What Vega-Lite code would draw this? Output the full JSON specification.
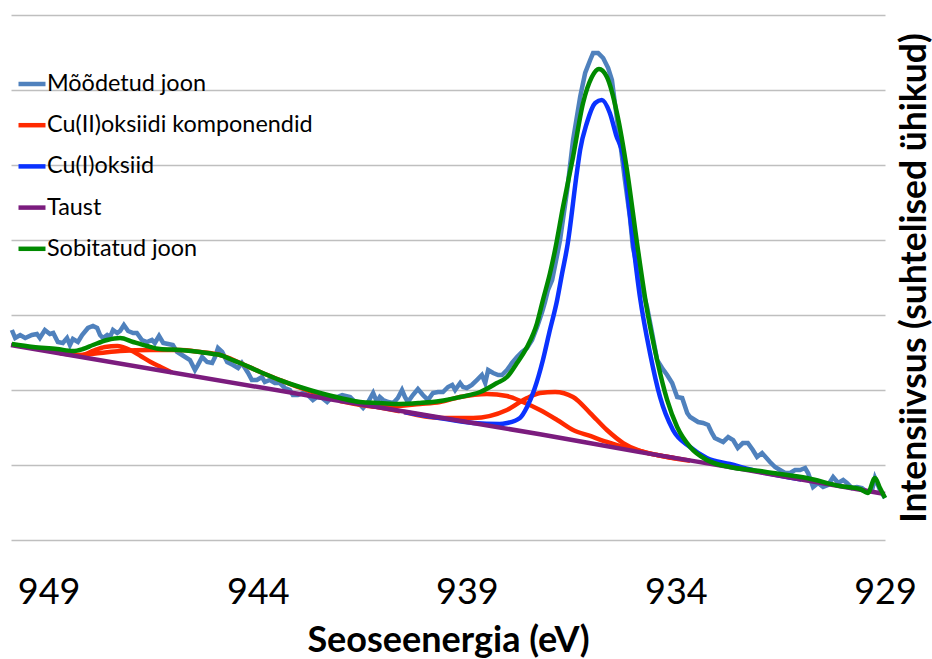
{
"$schema": "https://vega.github.io/schema/vega-lite/v6.json",
"width": 874, "height": 525,
"autosize": {"type": "none"},
"padding": {"left": 11, "top": 15, "right": 47, "bottom": 119},
"background": "white",
"config": {"view": {"stroke": null}, "font": "Lato"},
"datasets": {
"measured": [
{"e":949.88,"i":2800},{"e":949.80,"i":2693},{"e":949.68,"i":2733},{"e":949.56,"i":2693},{"e":949.40,"i":2733},{"e":949.28,"i":2747},{"e":949.21,"i":2693},{"e":949.09,"i":2800},{"e":948.97,"i":2747},{"e":948.89,"i":2760},{"e":948.78,"i":2640},{"e":948.66,"i":2627},{"e":948.56,"i":2693},{"e":948.49,"i":2600},{"e":948.42,"i":2680},{"e":948.30,"i":2640},{"e":948.20,"i":2733},{"e":948.06,"i":2827},{"e":947.94,"i":2853},{"e":947.84,"i":2827},{"e":947.77,"i":2733},{"e":947.70,"i":2693},{"e":947.60,"i":2733},{"e":947.53,"i":2707},{"e":947.46,"i":2800},{"e":947.36,"i":2760},{"e":947.29,"i":2787},{"e":947.20,"i":2867},{"e":947.10,"i":2787},{"e":946.98,"i":2760},{"e":946.89,"i":2760},{"e":946.77,"i":2667},{"e":946.65,"i":2640},{"e":946.53,"i":2667},{"e":946.46,"i":2627},{"e":946.36,"i":2720},{"e":946.26,"i":2627},{"e":946.14,"i":2613},{"e":946.03,"i":2600},{"e":945.93,"i":2507},{"e":945.81,"i":2467},{"e":945.62,"i":2400},{"e":945.50,"i":2267},{"e":945.43,"i":2333},{"e":945.33,"i":2440},{"e":945.21,"i":2373},{"e":945.09,"i":2360},{"e":945.02,"i":2440},{"e":944.95,"i":2560},{"e":944.85,"i":2507},{"e":944.73,"i":2373},{"e":944.59,"i":2333},{"e":944.47,"i":2293},{"e":944.38,"i":2360},{"e":944.23,"i":2227},{"e":944.14,"i":2133},{"e":944.02,"i":2133},{"e":943.90,"i":2173},{"e":943.83,"i":2107},{"e":943.71,"i":2133},{"e":943.59,"i":2093},{"e":943.47,"i":2093},{"e":943.35,"i":2027},{"e":943.23,"i":2000},{"e":943.16,"i":1933},{"e":943.04,"i":1933},{"e":942.92,"i":1960},{"e":942.80,"i":1933},{"e":942.68,"i":1867},{"e":942.58,"i":1907},{"e":942.46,"i":1893},{"e":942.34,"i":1840},{"e":942.22,"i":1907},{"e":942.10,"i":1907},{"e":941.98,"i":1933},{"e":941.79,"i":1907},{"e":941.67,"i":1840},{"e":941.55,"i":1800},{"e":941.48,"i":1760},{"e":941.36,"i":1840},{"e":941.24,"i":1960},{"e":941.15,"i":1840},{"e":941.08,"i":1907},{"e":941.00,"i":1867},{"e":940.88,"i":1840},{"e":940.76,"i":1827},{"e":940.65,"i":1893},{"e":940.55,"i":2000},{"e":940.48,"i":1907},{"e":940.41,"i":1840},{"e":940.29,"i":1933},{"e":940.17,"i":2013},{"e":940.05,"i":1933},{"e":939.93,"i":1867},{"e":939.81,"i":1960},{"e":939.69,"i":1973},{"e":939.57,"i":1973},{"e":939.45,"i":2040},{"e":939.35,"i":2067},{"e":939.28,"i":2000},{"e":939.16,"i":2093},{"e":939.09,"i":2040},{"e":939.00,"i":2027},{"e":938.88,"i":2067},{"e":938.76,"i":2133},{"e":938.64,"i":2200},{"e":938.56,"i":2093},{"e":938.49,"i":2267},{"e":938.37,"i":2227},{"e":938.25,"i":2200},{"e":938.16,"i":2200},{"e":938.04,"i":2267},{"e":937.92,"i":2360},{"e":937.80,"i":2440},{"e":937.68,"i":2507},{"e":937.56,"i":2560},{"e":937.44,"i":2667},{"e":937.32,"i":2840},{"e":937.20,"i":3040},{"e":937.13,"i":3173},{"e":937.06,"i":3333},{"e":936.96,"i":3467},{"e":936.84,"i":3800},{"e":936.77,"i":4000},{"e":936.60,"i":4667},{"e":936.46,"i":5333},{"e":936.29,"i":5907},{"e":936.17,"i":6227},{"e":936.05,"i":6400},{"e":935.98,"i":6493},{"e":935.86,"i":6493},{"e":935.74,"i":6427},{"e":935.62,"i":6293},{"e":935.53,"i":6133},{"e":935.46,"i":5827},{"e":935.34,"i":5333},{"e":935.22,"i":4800},{"e":935.10,"i":4307},{"e":935.03,"i":3907},{"e":934.86,"i":3467},{"e":934.69,"i":3107},{"e":934.57,"i":2760},{"e":934.45,"i":2400},{"e":934.33,"i":2293},{"e":934.21,"i":2200},{"e":934.09,"i":2093},{"e":933.97,"i":1907},{"e":933.85,"i":1893},{"e":933.73,"i":1693},{"e":933.66,"i":1640},{"e":933.47,"i":1573},{"e":933.35,"i":1560},{"e":933.23,"i":1533},{"e":933.14,"i":1427},{"e":933.07,"i":1360},{"e":932.87,"i":1307},{"e":932.75,"i":1373},{"e":932.63,"i":1333},{"e":932.52,"i":1227},{"e":932.40,"i":1293},{"e":932.28,"i":1293},{"e":932.16,"i":1200},{"e":932.06,"i":1107},{"e":931.94,"i":1160},{"e":931.75,"i":1040},{"e":931.63,"i":973},{"e":931.51,"i":933},{"e":931.39,"i":893},{"e":931.27,"i":893},{"e":931.15,"i":933},{"e":931.03,"i":933},{"e":930.91,"i":960},{"e":930.84,"i":893},{"e":930.72,"i":707},{"e":930.60,"i":760},{"e":930.48,"i":707},{"e":930.36,"i":733},{"e":930.24,"i":840},{"e":930.12,"i":760},{"e":930.00,"i":800},{"e":929.91,"i":760},{"e":929.79,"i":693},{"e":929.67,"i":707},{"e":929.55,"i":693},{"e":929.43,"i":640},{"e":929.31,"i":667},{"e":929.24,"i":827},{"e":929.12,"i":667},{"e":929.00,"i":560}
],
"red": [
{"c":"A","e":948.25,"i":2443},{"c":"A","e":947.89,"i":2533},{"c":"A","e":947.65,"i":2573},{"c":"A","e":947.36,"i":2587},{"c":"A","e":947.05,"i":2533},{"c":"A","e":946.80,"i":2453},{"c":"A","e":946.56,"i":2373},{"c":"A","e":946.32,"i":2307},{"c":"A","e":946.05,"i":2234},
{"c":"B","e":948.73,"i":2489},{"c":"B","e":948.25,"i":2467},{"c":"B","e":947.77,"i":2493},{"c":"B","e":947.29,"i":2520},{"c":"B","e":946.58,"i":2533},{"c":"B","e":945.86,"i":2533},{"c":"B","e":945.38,"i":2507},{"c":"B","e":944.90,"i":2467},{"c":"B","e":944.42,"i":2360},{"c":"B","e":943.94,"i":2240},{"c":"B","e":943.47,"i":2133},{"c":"B","e":942.99,"i":2030},{"c":"B","e":942.51,"i":1940},{"c":"B","e":942.03,"i":1870},{"c":"B","e":941.55,"i":1815},{"c":"B","e":941.08,"i":1765},{"c":"B","e":940.60,"i":1716},
{"c":"C","e":942.03,"i":1852},{"c":"C","e":941.08,"i":1775},{"c":"C","e":940.12,"i":1813},{"c":"C","e":939.64,"i":1840},{"c":"C","e":939.16,"i":1907},{"c":"C","e":938.52,"i":1947},{"c":"C","e":938.04,"i":1920},{"c":"C","e":937.66,"i":1840},{"c":"C","e":937.25,"i":1733},{"c":"C","e":936.84,"i":1600},{"c":"C","e":936.46,"i":1467},{"c":"C","e":936.05,"i":1387},{"c":"C","e":935.65,"i":1307},{"c":"C","e":935.26,"i":1240},{"c":"C","e":934.86,"i":1187},{"c":"C","e":934.45,"i":1133},{"c":"C","e":934.00,"i":1088},
{"c":"D","e":940.50,"i":1706},{"c":"D","e":939.64,"i":1627},{"c":"D","e":938.85,"i":1627},{"c":"D","e":938.04,"i":1733},{"c":"D","e":937.56,"i":1893},{"c":"D","e":937.25,"i":1960},{"c":"D","e":936.89,"i":1973},{"c":"D","e":936.46,"i":1907},{"c":"D","e":936.05,"i":1693},{"c":"D","e":935.65,"i":1467},{"c":"D","e":935.26,"i":1293},{"c":"D","e":934.86,"i":1187},{"c":"D","e":934.45,"i":1133},{"c":"D","e":933.66,"i":1056}
],
"blue": [
{"e":940.50,"i":1706},{"e":939.50,"i":1612},{"e":938.85,"i":1560},{"e":938.21,"i":1547},{"e":938.04,"i":1560},{"e":937.73,"i":1627},{"e":937.56,"i":1773},{"e":937.39,"i":2000},{"e":937.18,"i":2400},{"e":937.03,"i":2760},{"e":936.84,"i":3200},{"e":936.72,"i":3560},{"e":936.60,"i":3907},{"e":936.36,"i":4933},{"e":936.29,"i":5200},{"e":936.13,"i":5560},{"e":935.93,"i":5827},{"e":935.77,"i":5867},{"e":935.58,"i":5693},{"e":935.43,"i":5400},{"e":935.26,"i":5107},{"e":935.10,"i":4333},{"e":934.86,"i":3240},{"e":934.62,"i":2493},{"e":934.38,"i":1907},{"e":934.07,"i":1467},{"e":933.66,"i":1240},{"e":933.26,"i":1093},{"e":932.71,"i":1013},{"e":932.00,"i":910},{"e":931.00,"i":805}
],
"bg": [
{"e":949.9,"i":2600},{"e":942.2,"i":1870},{"e":937.25,"i":1410},{"e":934.86,"i":1172},{"e":932.47,"i":950},{"e":929.0,"i":613}
],
"fit": [
{"e":949.88,"i":2613},{"e":949.37,"i":2573},{"e":948.80,"i":2547},{"e":948.42,"i":2520},{"e":948.18,"i":2547},{"e":947.94,"i":2600},{"e":947.60,"i":2667},{"e":947.29,"i":2693},{"e":946.98,"i":2640},{"e":946.65,"i":2587},{"e":946.34,"i":2547},{"e":945.86,"i":2533},{"e":945.38,"i":2507},{"e":945.07,"i":2480},{"e":944.90,"i":2467},{"e":944.66,"i":2413},{"e":944.42,"i":2360},{"e":943.94,"i":2240},{"e":943.47,"i":2133},{"e":942.99,"i":2040},{"e":942.51,"i":1960},{"e":942.03,"i":1893},{"e":941.55,"i":1840},{"e":941.08,"i":1827},{"e":940.60,"i":1813},{"e":940.12,"i":1827},{"e":939.64,"i":1853},{"e":939.16,"i":1907},{"e":938.68,"i":1973},{"e":938.28,"i":2093},{"e":938.04,"i":2173},{"e":937.80,"i":2360},{"e":937.56,"i":2573},{"e":937.32,"i":2893},{"e":937.18,"i":3200},{"e":937.01,"i":3560},{"e":936.89,"i":3867},{"e":936.70,"i":4440},{"e":936.46,"i":5107},{"e":936.22,"i":5827},{"e":936.01,"i":6173},{"e":935.84,"i":6280},{"e":935.65,"i":6173},{"e":935.41,"i":5693},{"e":935.17,"i":4933},{"e":934.93,"i":3960},{"e":934.69,"i":3067},{"e":934.45,"i":2400},{"e":934.21,"i":1867},{"e":933.97,"i":1507},{"e":933.66,"i":1240},{"e":933.26,"i":1067},{"e":932.71,"i":973},{"e":931.99,"i":920},{"e":931.68,"i":893},{"e":930.87,"i":827},{"e":930.08,"i":720},{"e":929.60,"i":680},{"e":929.41,"i":627},{"e":929.24,"i":827},{"e":929.12,"i":693},{"e":929.00,"i":560}
]
},
"encoding": {
"x": {"field": "e", "type": "quantitative",
 "scale": {"domain": [929, 949.9], "reverse": true, "nice": false, "zero": false},
 "axis": {"values": [949, 944, 939, 934, 929], "format": "d", "title": "Seoseenergia (eV)", "grid": false, "domain": false, "ticks": false, "labelFlush": false, "labelOverlap": false, "labelFont": "Lato", "labelFontSize": 36, "labelColor": "black", "labelPadding": 35, "titleFont": "Lato", "titleFontSize": 36, "titleFontWeight": "bold", "titleColor": "black", "titlePadding": 13}},
"y": {"field": "i", "type": "quantitative",
 "scale": {"domain": [0, 7000], "nice": false, "zero": false},
 "axis": {"orient": "right", "values": [0, 1000, 2000, 3000, 4000, 5000, 6000, 7000], "grid": true, "gridColor": "#bfbfbf", "gridWidth": 1.5, "labels": false, "ticks": false, "domain": false, "title": "Intensiivsus (suhtelised ühikud)", "titleAngle": 270, "titleFont": "Lato", "titleFontSize": 35.5, "titleFontWeight": "bold", "titleColor": "black", "titlePadding": 47}}
},
"layer": [
{"data": {"name": "measured"}, "mark": {"type": "line", "strokeWidth": 4.5, "interpolate": "linear"},
 "encoding": {"color": {"datum": "Mõõdetud joon", "type": "nominal",
   "scale": {"domain": ["Mõõdetud joon", "Cu(II)oksiidi komponendid", "Cu(I)oksiid", "Taust", "Sobitatud joon"], "range": ["#4F81BD", "#FF2A00", "#0A32FF", "#7B1C7E", "#008A00"]},
   "legend": {"orient": "none", "legendX": 5, "legendY": 53, "title": null, "symbolType": "stroke", "symbolSize": 729, "symbolStrokeWidth": 4.5, "labelFont": "Lato", "labelFontSize": 23.4, "labelColor": "black", "labelOffset": -1, "labelLimit": 0, "rowPadding": 13.2, "padding": 0}}}},
{"data": {"name": "red"}, "mark": {"type": "line", "strokeWidth": 4.5, "interpolate": "monotone"},
 "encoding": {"detail": {"field": "c"}, "color": {"datum": "Cu(II)oksiidi komponendid", "type": "nominal"}}},
{"data": {"name": "blue"}, "mark": {"type": "line", "strokeWidth": 4.5, "interpolate": "monotone"},
 "encoding": {"color": {"datum": "Cu(I)oksiid", "type": "nominal"}}},
{"data": {"name": "bg"}, "mark": {"type": "line", "strokeWidth": 4.5, "interpolate": "monotone"},
 "encoding": {"color": {"datum": "Taust", "type": "nominal"}}},
{"data": {"name": "fit"}, "mark": {"type": "line", "strokeWidth": 4.5, "interpolate": "monotone"},
 "encoding": {"color": {"datum": "Sobitatud joon", "type": "nominal"}}}
]
}
